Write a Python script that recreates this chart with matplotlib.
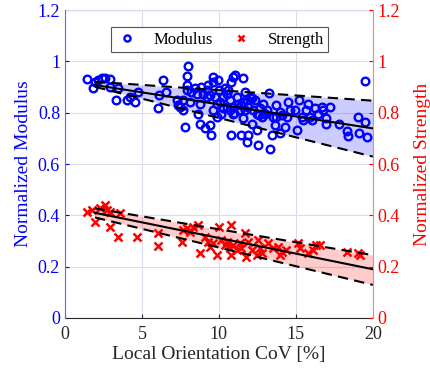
import matplotlib
matplotlib.use("Agg")
import matplotlib.pyplot as plt
import numpy as np

plt.rcParams['font.family'] = ['Liberation Serif', 'DejaVu Serif']

# modulus data
mod_x = [1.41, 1.84, 1.95, 2.16, 2.38, 2.6, 2.92, 2.92, 3.46, 3.35, 4.0, 4.2,
         4.55, 4.76, 6.06, 6.1, 6.34, 6.56, 7.27, 7.36, 7.79, 7.68, 7.9, 7.9,
         7.9, 8.0, 8.12, 8.2, 8.44, 8.66, 8.77, 8.87, 9.09, 9.2, 9.3, 9.42,
         9.52, 9.63, 9.63, 9.74, 9.85, 9.96, 10.02, 10.07, 10.28, 10.39, 10.5,
         10.6, 10.71, 10.76, 10.82, 10.93, 11.04, 10.93, 11.15, 11.36, 11.47,
         11.58, 11.58, 11.69, 11.8, 11.8, 11.9, 12.01, 12.12, 12.23, 12.34,
         12.45, 12.51, 12.62, 12.77, 12.88, 13.1, 13.27, 13.31, 13.42, 13.53,
         13.64, 13.74, 13.96, 13.96, 14.29, 14.4, 14.5, 14.94, 15.09, 15.22,
         15.37, 15.69, 15.8, 16.02, 16.23, 16.45, 16.67, 16.77, 16.99, 17.25,
         16.99, 17.81, 18.3, 18.4, 19.05, 19.1, 19.5, 19.6, 19.5,
         9.2, 8.98, 10.5, 10.71, 10.93, 11.26, 11.47, 11.69, 11.9, 12.45,
         12.66, 12.99, 9.85, 9.63, 10.17, 8.77, 8.55, 7.47, 7.68, 11.58,
         12.18, 13.74, 14.61, 15.48, 15.91, 9.4, 10.3, 11.0, 12.9, 14.1]
mod_y = [0.93, 0.895, 0.92, 0.927, 0.934, 0.934, 0.93, 0.90, 0.895, 0.85,
         0.85, 0.86, 0.843, 0.88, 0.817, 0.869, 0.927, 0.882, 0.85, 0.83,
         0.745, 0.81, 0.888, 0.908, 0.943, 0.982, 0.843, 0.88, 0.895, 0.797,
         0.758, 0.901, 0.739, 0.888, 0.908, 0.752, 0.713, 0.921, 0.94, 0.862,
         0.784, 0.927, 0.888, 0.843, 0.817, 0.895, 0.875, 0.888, 0.85, 0.713,
         0.921, 0.94, 0.947, 0.823, 0.862, 0.81, 0.713, 0.934, 0.778, 0.882,
         0.85, 0.687, 0.713, 0.862, 0.758, 0.81, 0.85, 0.732, 0.674, 0.79,
         0.784, 0.836, 0.81, 0.878, 0.657, 0.713, 0.784, 0.752, 0.83, 0.804,
         0.72, 0.745, 0.784, 0.843, 0.81, 0.732, 0.85, 0.784, 0.81, 0.836,
         0.771, 0.817, 0.797, 0.823, 0.81, 0.758, 0.823, 0.778, 0.756, 0.73,
         0.709, 0.784, 0.722, 0.765, 0.706, 0.925,
         0.862, 0.875, 0.823, 0.81, 0.797, 0.836, 0.83, 0.81, 0.823, 0.797,
         0.817, 0.797, 0.836, 0.81, 0.797, 0.836, 0.875, 0.823, 0.85, 0.843,
         0.856, 0.784, 0.81, 0.771, 0.784, 0.87, 0.86, 0.80, 0.80, 0.79]

# strength data
str_x = [1.41, 1.73, 1.95, 2.27, 2.6, 2.71, 2.92, 2.92, 3.46, 3.57, 4.7,
         6.06, 6.06, 7.58, 7.68, 7.9, 8.12, 8.33, 8.66, 8.77, 9.09, 9.3, 9.42,
         9.63, 9.85, 10.02, 10.17, 10.39, 10.5, 10.71, 10.76, 10.82, 10.93,
         11.15, 11.36, 11.47, 11.69, 11.75, 11.9, 12.12, 12.45, 12.55, 12.66,
         12.77, 13.2, 13.53, 13.85, 13.96, 14.07, 14.39, 15.15, 15.26, 15.8,
         16.13, 16.34, 16.56, 18.3, 19.05, 19.16]
str_y = [0.414, 0.421, 0.375, 0.427, 0.44, 0.421, 0.414, 0.356, 0.317, 0.408,
         0.317, 0.33, 0.281, 0.297, 0.343, 0.349, 0.336, 0.356, 0.362, 0.252,
         0.317, 0.297, 0.278, 0.291, 0.245, 0.356, 0.304, 0.284, 0.297, 0.271,
         0.245, 0.362, 0.284, 0.265, 0.291, 0.271, 0.33, 0.239, 0.297, 0.265,
         0.245, 0.304, 0.271, 0.252, 0.291, 0.271, 0.278, 0.245, 0.258, 0.265,
         0.291, 0.271, 0.252, 0.265, 0.284, 0.284, 0.258, 0.252, 0.245]

# fit lines and bounds (end points at x = 1.95 and 20)
fit_x = [1.95, 20.0]
mod_fit = [0.908, 0.739]
mod_up = [0.921, 0.847]
mod_lo = [0.901, 0.629]
str_fit = [0.41, 0.19]
str_up = [0.427, 0.245]
str_lo = [0.392, 0.129]

BLUE = '#0000ff'
RED = '#ff0000'

fig = plt.figure(figsize=(4.3, 3.75), dpi=100)
ax = fig.add_axes([0.151, 0.152, 0.716, 0.821])
ax2 = ax.twinx()

ax.fill_between(fit_x, mod_lo, mod_up, color=BLUE, alpha=0.2, lw=0)
ax.plot(mod_x, mod_y, 'o', mfc='none', mec=BLUE, mew=1.7, ms=5.5,
        label='Modulus')
ax.plot(fit_x, mod_fit, 'k-', lw=1.5)
ax.plot(fit_x, mod_up, 'k--', lw=1.5, dashes=(5, 3))
ax.plot(fit_x, mod_lo, 'k--', lw=1.5, dashes=(5, 3))

ax2.fill_between(fit_x, str_lo, str_up, color=RED, alpha=0.2, lw=0)
ax2.plot(str_x, str_y, 'x', color=RED, mew=1.8, ms=6, label='Strength')
ax2.plot(fit_x, str_fit, 'k-', lw=1.5)
ax2.plot(fit_x, str_up, 'k--', lw=1.5, dashes=(5, 3))
ax2.plot(fit_x, str_lo, 'k--', lw=1.5, dashes=(5, 3))

for a in (ax, ax2):
    a.set_xlim(0, 20)
    a.set_ylim(0, 1.2)
    a.set_yticks([0, 0.2, 0.4, 0.6, 0.8, 1.0, 1.2])
    a.set_yticklabels(['0', '0.2', '0.4', '0.6', '0.8', '1', '1.2'])

ax.set_xticks([0, 5, 10, 15, 20])
ax.grid(True, color='#dcdcec', lw=0.8)
ax.set_axisbelow(True)
ax.tick_params(axis='x', colors='#262626', labelsize=13, length=3,
               direction='in', pad=6)
ax.tick_params(axis='y', colors=BLUE, labelsize=13, length=3,
               direction='in')
ax2.tick_params(axis='y', colors=RED, labelsize=13, length=3,
                direction='in')
ax.set_xlabel('Local Orientation CoV [%]', fontsize=14, color='#262626',
              labelpad=2)
ax.set_ylabel('Normalized Modulus', fontsize=14, color=BLUE)
ax2.set_ylabel('Normalized Strength', fontsize=14, color=RED, labelpad=10)

for s in ('left', 'right', 'top'):
    ax.spines[s].set_visible(False)
for s in ('bottom', 'top'):
    ax2.spines[s].set_visible(False)
ax.spines['bottom'].set_color('#262626')
ax2.spines['left'].set_color('#6666ff')
ax2.spines['right'].set_color('#ff8080')
ax2.spines['left'].set_visible(True)
ax.plot([0, 20], [1.2, 1.2], color='#dcdcec', lw=1, clip_on=False)

h1, l1 = ax.get_legend_handles_labels()
h2, l2 = ax2.get_legend_handles_labels()
leg = ax2.legend(h1 + h2, l1 + l2, loc='upper center', ncol=2,
                 bbox_to_anchor=(0.503, 0.971), fontsize=12, fancybox=False,
                 framealpha=1, edgecolor='#555555', handletextpad=0.9,
                 columnspacing=1.0, borderpad=0.25, handlelength=1.4,
                 markerscale=0.8)
leg.get_frame().set_linewidth(0.8)

fig.savefig('out.png', dpi=100)
